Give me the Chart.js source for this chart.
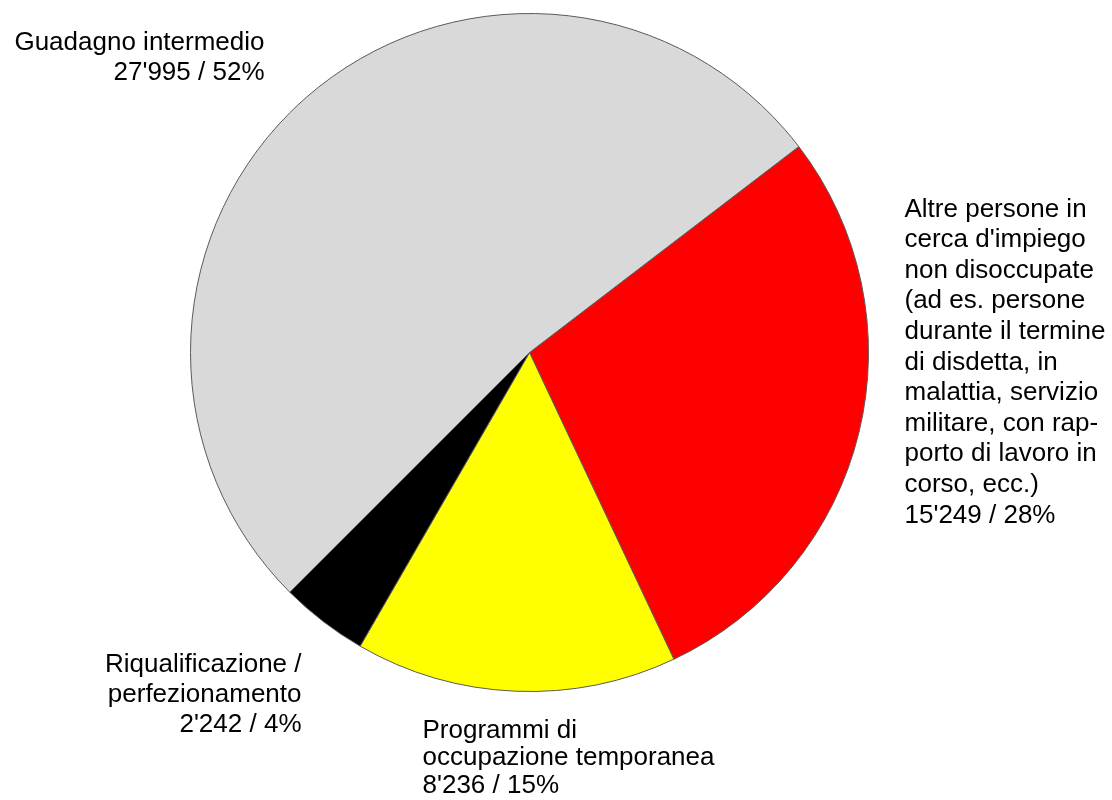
<!DOCTYPE html>
<html>
<head>
<meta charset="utf-8">
<script src="https://cdn.jsdelivr.net/npm/chart.js@4"></script>
<style>
  html, body { margin: 0; padding: 0; background: #fff; }
  #wrap { width: 1112px; height: 800px; position: relative; }
</style>
</head>
<body>
<div id="wrap"><canvas id="myChart" width="1112" height="800"></canvas></div>
<script>
// categories, clockwise from the grey/red boundary
var categories = ["Altre persone in cerca d'impiego non disoccupate", "Programmi di occupazione temporanea", "Riqualificazione / perfezionamento", "Guadagno intermedio"];
var labelLines = [
  ["Altre persone in", "cerca d'impiego", "non disoccupate", "(ad es. persone", "durante il termine", "di disdetta, in", "malattia, servizio", "militare, con rap-", "porto di lavoro in", "corso, ecc.)"],
  ["Programmi di", "occupazione temporanea"],
  ["Riqualificazione /", "perfezionamento"],
  ["Guadagno intermedio"]
];
var values = [15249, 8236, 2242, 27995];
var colors = ['#ff0000', '#ffff00', '#000000', '#d9d9d9'];

function fmt(n) {
  return String(n).replace(/\B(?=(\d{3})+(?!\d))/g, "'");
}

// where each label sits, relative to the pie centre
var labelPlace = [
  {dx: 375, dy: -136, align: 'left', lh: 30.6},
  {dx: -107, dy: 385, align: 'left', lh: 27.5},
  {dx: -228, dy: 319, align: 'right', lh: 30},
  {dx: -265, dy: -303, align: 'right', lh: 30}
];

var outsideLabels = {
  id: 'outsideLabels',
  afterDraw: function(chart) {
    var ctx = chart.ctx;
    var arc = chart.getDatasetMeta(0).data[0];
    var total = values.reduce(function(a, b) { return a + b; }, 0);
    ctx.save();
    ctx.fillStyle = '#000';
    ctx.font = '26px "Liberation Sans", Arial, sans-serif';
    ctx.textBaseline = 'alphabetic';
    for (var i = 0; i < values.length; i++) {
      var p = labelPlace[i];
      var lines = labelLines[i].concat([fmt(values[i]) + ' / ' + Math.round(values[i] / total * 100) + '%']);
      ctx.textAlign = p.align;
      for (var j = 0; j < lines.length; j++) {
        ctx.fillText(lines[j], arc.x + p.dx, arc.y + p.dy + j * p.lh);
      }
    }
    ctx.restore();
  }
};

var ctx = document.getElementById('myChart').getContext('2d');
var chart = new Chart(ctx, {
  type: 'pie',
  data: {
    labels: categories,
    datasets: [{
      data: values,
      backgroundColor: colors,
      borderColor: '#5a5a5a',
      borderWidth: 1
    }]
  },
  options: {
    responsive: false,
    animation: false,
    rotation: 52.6,
    layout: { padding: { top: 13, bottom: 108, left: 190, right: 243 } },
    plugins: {
      legend: { display: false },
      tooltip: { enabled: false }
    }
  },
  plugins: [outsideLabels]
});
</script>
</body>
</html>
